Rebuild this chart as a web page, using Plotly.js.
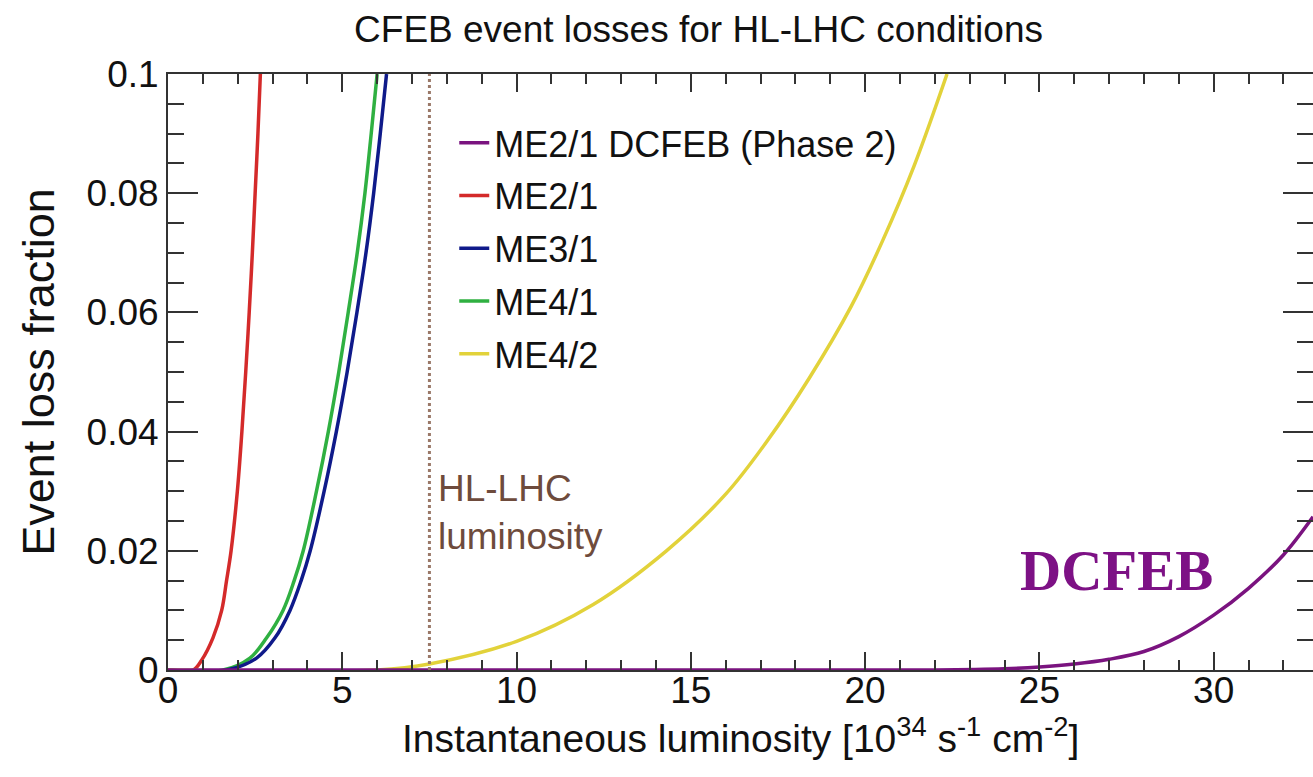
<!DOCTYPE html>
<html>
<head>
<meta charset="utf-8">
<script src="https://cdn.plot.ly/plotly-3.0.1.min.js"></script>
<style>
  html, body { margin: 0; padding: 0; background: #ffffff; }
  #chart { width: 1313px; height: 777px; }
</style>
</head>
<body>
<div id="chart"></div>
<script>
// ---- Data ----
const seriesNames = ["ME2/1 DCFEB (Phase 2)", "ME2/1", "ME3/1", "ME4/1", "ME4/2"];

const me21Lumi = [0, 0.72, 0.97, 1.29, 1.54, 1.68, 1.81, 1.99, 2.12, 2.23, 2.33, 2.42, 2.50, 2.58, 2.65];
const me21Loss = [0, 0, 0.0017, 0.0054, 0.010, 0.015, 0.020, 0.030, 0.040, 0.050, 0.060, 0.070, 0.080, 0.090, 0.100];

const me41Lumi = [0, 1.58, 2.35, 2.83, 3.30, 3.62, 3.88, 4.26, 4.60, 4.90, 5.17, 5.43, 5.65, 5.83, 6.00];
const me41Loss = [0, 0, 0.002, 0.0054, 0.010, 0.015, 0.020, 0.030, 0.040, 0.050, 0.060, 0.070, 0.080, 0.090, 0.100];

const me31Lumi = [0, 1.68, 2.54, 3.07, 3.50, 3.82, 4.08, 4.48, 4.83, 5.14, 5.42, 5.68, 5.90, 6.09, 6.27];
const me31Loss = [0, 0, 0.002, 0.0054, 0.010, 0.015, 0.020, 0.030, 0.040, 0.050, 0.060, 0.070, 0.080, 0.090, 0.100];

const me42Lumi = [0, 6.0, 7.5, 10.0, 12.2, 14.3, 16.0, 17.2, 18.4, 19.6, 20.5, 21.4, 22.35];
const me42Loss = [0, 0, 0.001, 0.0048, 0.011, 0.020, 0.0295, 0.0385, 0.049, 0.061, 0.072, 0.0845, 0.100];

const dcfebLumi = [0, 22, 24, 25, 26, 27, 28, 29, 30, 31, 32, 32.85];
const dcfebLoss = [0, 0, 0.0002, 0.0005, 0.0010, 0.0018, 0.0031, 0.0056, 0.0092, 0.0137, 0.0193, 0.0257];

const hlLhcLumi = 7.5;

const xTickVals = [0, 5, 10, 15, 20, 25, 30];
const yTickVals = [0, 0.02, 0.04, 0.06, 0.08, 0.1];

const titleText = "CFEB event losses for HL-LHC conditions";
const xTitleText = "Instantaneous luminosity [10<sup>34</sup> s<sup>-1</sup> cm<sup>-2</sup>]";
const yTitleText = "Event loss fraction";

// ---- Styles ----
const colors = {
  dcfeb: "#7a137f",
  me21: "#d42a2a",
  me31: "#0f1a8a",
  me41: "#2fb041",
  me42: "#e2d23a"
};
const font = "Liberation Sans, Arial, sans-serif";

function line(x, y, name, color, rank) {
  return {
    x: x, y: y, name: name, type: "scatter", mode: "lines",
    line: { color: color, width: 3.5, shape: "spline", smoothing: 1 },
    legendrank: rank, legendgroup: name, hoverinfo: "x+y+name"
  };
}

const traces = [
  line(me21Lumi, me21Loss, seriesNames[1], colors.me21, 2),
  line(me41Lumi, me41Loss, seriesNames[3], colors.me41, 4),
  line(me31Lumi, me31Loss, seriesNames[2], colors.me31, 3),
  line(me42Lumi, me42Loss, seriesNames[4], colors.me42, 5),
  line(dcfebLumi, dcfebLoss, seriesNames[0], colors.dcfeb, 1)
];

const axisCommon = {
  showgrid: false, zeroline: false, showline: true,
  linecolor: "#333333", linewidth: 2,
  ticks: "inside", tickcolor: "#333333", tickwidth: 2,
  mirror: "ticks",
  tickfont: { family: font, size: 37, color: "#111111" }
};

const layout = {
  width: 1313, height: 777,
  paper_bgcolor: "#ffffff", plot_bgcolor: "#ffffff",
  margin: { l: 168, r: 0, t: 74, b: 107, pad: 0 },
  title: {
    text: titleText,
    font: { family: font, size: 37, color: "#111111" },
    x: 0.532, xanchor: "center", xref: "container",
    y: 0.962, yanchor: "middle", yref: "container"
  },
  xaxis: Object.assign({}, axisCommon, {
    range: [0, 32.85], tickvals: xTickVals, ticklen: 18,
    ticklabelstandoff: -13,
    minor: { dtick: 1, tick0: 0, ticks: "inside", ticklen: 10, tickcolor: "#333333", tickwidth: 2 }
  }),
  yaxis: Object.assign({}, axisCommon, {
    range: [0, 0.1], tickvals: yTickVals, ticklen: 30,
    minor: { dtick: 0.005, tick0: 0, ticks: "inside", ticklen: 16, tickcolor: "#333333", tickwidth: 2 },
    title: {
      text: yTitleText,
      font: { family: font, size: 45, color: "#111111" }, standoff: 18
    }
  }),
  showlegend: true,
  legend: {
    x: 0.25, xanchor: "left", y: 0.935, yanchor: "top",
    bgcolor: "rgba(0,0,0,0)", borderwidth: 0,
    font: { family: font, size: 36, color: "#111111" },
    tracegroupgap: 3, itemwidth: 30
  },
  shapes: [{
    type: "line", xref: "x", yref: "y",
    x0: hlLhcLumi, x1: hlLhcLumi, y0: 0, y1: 0.1,
    line: { color: "#9a7868", width: 3, dash: "dot" }
  }],
  annotations: [
    {
      text: xTitleText, xref: "paper", yref: "paper",
      x: 0.5, y: -0.065, xanchor: "center", yanchor: "top",
      showarrow: false, font: { family: font, size: 39, color: "#111111" }
    },
    {
      text: "HL-LHC<br>luminosity", xref: "x", yref: "y",
      x: 7.7, y: 0.0265, xanchor: "left", yanchor: "middle", align: "left",
      showarrow: false, font: { family: font, size: 37, color: "#6e4b3c" }
    },
    {
      text: "<b>DCFEB</b>", xref: "x", yref: "y",
      x: 27.2, y: 0.0167, xanchor: "center", yanchor: "middle",
      showarrow: false, font: { family: "Liberation Serif, Times New Roman, serif", size: 57, color: "#7d1185" }
    }
  ]
};

Plotly.newPlot("chart", traces, layout, { displayModeBar: false, responsive: false });
</script>
</body>
</html>
